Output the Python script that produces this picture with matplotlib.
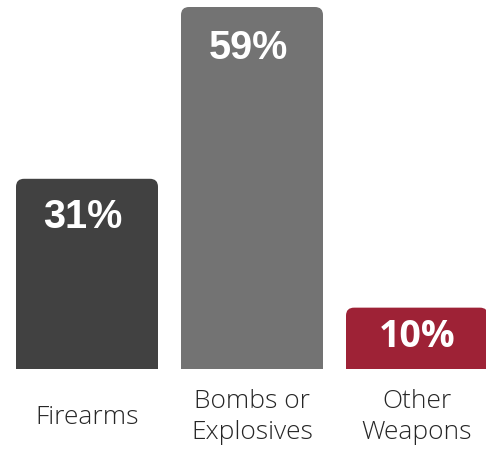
"""Share of attacks by weapon type, rounded-top bar chart."""

import matplotlib
matplotlib.use("Agg")
import matplotlib.pyplot as plt
from matplotlib.patches import FancyBboxPatch

categories = ["Firearms", "Bombs or\nExplosives", "Other\nWeapons"]
values = [31, 59, 10]
value_labels = ["31%", "59%", "10%"]
colors = ["#414141", "#737373", "#9e2236"]
label_fonts = ["Liberation Sans", "Liberation Sans", "Open Sans"]

W, H = 486, 449
DPI = 100

fig = plt.figure(figsize=(W / DPI, H / DPI), dpi=DPI)

# axes placed so that the baseline sits at y=369 px and the top (59%) at y=7 px
base_px, top_px = 369, 7
ax = fig.add_axes([0, (H - base_px) / H, 1, (base_px - top_px) / H])
ax.set_axis_off()

# bar centers at 87, 252, 416 px -> spacing 165 px
spacing_px = 165.0
first_px = 87.0
ax.set_xlim(-first_px / spacing_px, (W - first_px) / spacing_px)
ax.set_ylim(0, max(values))

bar_w = 142 / spacing_px
px_per_y = (base_px - top_px) / max(values)
radius_px = 8
aspect = spacing_px / px_per_y

for i, (v, c) in enumerate(zip(values, colors)):
    # extend below the baseline so only the top corners look rounded
    patch = FancyBboxPatch(
        (i - bar_w / 2, -5),
        bar_w,
        v + 5,
        boxstyle=f"round,pad=0,rounding_size={radius_px / spacing_px}",
        mutation_aspect=aspect,
        facecolor=c,
        edgecolor="none",
    )
    ax.add_patch(patch)

# value labels inside the bar tops
offsets_px = [(-4, 38), (-4, 41), (0, 29)]
sizes = [28.5, 28.5, 27]
for i, (v, lab, fam, off, fs) in enumerate(
    zip(values, value_labels, label_fonts, offsets_px, sizes)
):
    ax.annotate(
        lab,
        xy=(i, v),
        xytext=(off[0] * 72 / DPI, -off[1] * 72 / DPI),
        textcoords="offset points",
        ha="center",
        va="center",
        color="white",
        fontsize=fs,
        fontweight="bold",
        family=fam,
    )

# category labels under the bars
for i, cat in enumerate(categories):
    ax.annotate(
        cat,
        xy=(i, 0),
        xytext=(0, -48 * 72 / DPI),
        textcoords="offset points",
        ha="center",
        va="center",
        color="#262626",
        fontsize=19,
        fontweight="light",
        family="Open Sans",
        linespacing=1.32,
        annotation_clip=False,
    )

fig.savefig("out.png", dpi=DPI)
